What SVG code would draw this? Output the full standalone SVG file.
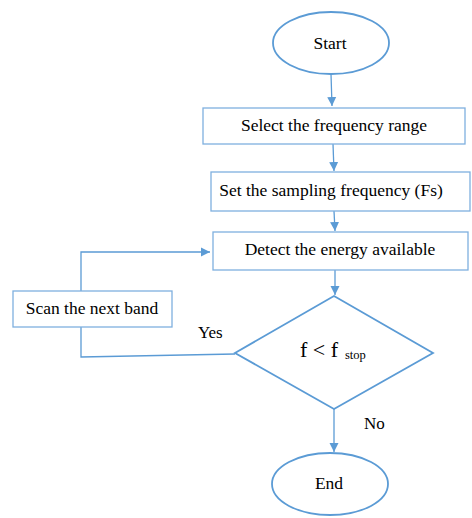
<svg xmlns="http://www.w3.org/2000/svg" width="472" height="518" viewBox="0 0 472 518">
<style>
text{font-family:'Liberation Serif','DejaVu Serif',serif;fill:#000}
.t{font-size:17.5px;text-anchor:middle}
.l{font-size:17px}
.sh{fill:#fff;stroke:#5B9BD5;stroke-width:1.8}
.bx{fill:#fff;stroke:#7FB0DF;stroke-width:1.3}
.c{fill:none;stroke:#5B9BD5;stroke-width:1.3}
</style>
<defs>
<marker id="a" markerWidth="10" markerHeight="10" refX="9" refY="5" orient="auto" markerUnits="userSpaceOnUse">
<path d="M0,0.5 L9,5 L0,9.5 Z" fill="#5B9BD5"/>
</marker>
</defs>
<rect width="472" height="518" fill="#fff"/>
<g id="connectors">
<path class="c" d="M331,74 L332,106" marker-end="url(#a)"/>
<path class="c" d="M333,144 L334,171" marker-end="url(#a)"/>
<path class="c" d="M334,211 L335,231" marker-end="url(#a)"/>
<path class="c" d="M81,291 L81,252 L210,252" marker-end="url(#a)"/>
<path class="c" d="M335,270 L335,295" marker-end="url(#a)"/>
<path class="c" d="M81,327 L81,357 L235,354"/>
<path class="c" d="M334,409 L334,452" marker-end="url(#a)"/>
</g>
<g id="start">
<ellipse class="sh" cx="331" cy="43" rx="58" ry="31"/>
<text class="t" x="330" y="49">Start</text>
</g>
<g id="select">
<rect class="bx" x="203" y="108" width="262" height="36"/>
<text class="t" x="334" y="131">Select the frequency range</text>
</g>
<g id="set">
<rect class="bx" x="211" y="172" width="259" height="39"/>
<text class="t" x="331" y="196">Set the sampling frequency (Fs)</text>
</g>
<g id="detect">
<rect class="bx" x="213" y="232" width="255" height="38"/>
<text class="t" x="340" y="255">Detect the energy available</text>
</g>
<g id="scan">
<rect class="bx" x="13" y="291" width="159" height="36"/>
<text class="t" x="92" y="314">Scan the next band</text>
</g>
<g id="decision">
<polygon class="sh" points="334,296 433,353 334,409 235,353"/>
<text class="l" x="300" y="357" style="font-size:22px">f &lt; f</text>
<text class="l" x="345" y="359" style="font-size:12.5px">stop</text>
</g>
<g id="end">
<ellipse class="sh" cx="330" cy="484" rx="58" ry="31"/>
<text class="t" x="329" y="489">End</text>
</g>
<text class="l" x="198" y="338">Yes</text>
<text class="l" x="364" y="429">No</text>
</svg>
